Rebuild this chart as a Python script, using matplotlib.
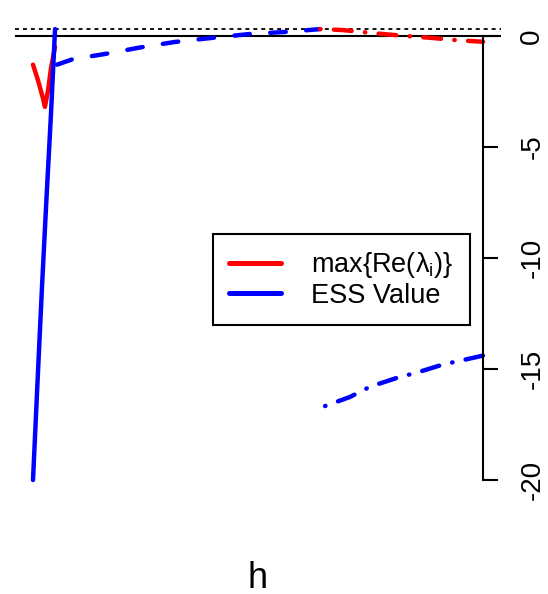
import matplotlib
matplotlib.use("Agg")
import matplotlib.pyplot as plt

# ---- data (h in arbitrary units, 0..2) ----
ess_solid_h = [0.0, 0.02, 0.04, 0.06, 0.08, 0.098]
ess_solid_v = [-20.0, -15.6, -11.3, -7.3, -3.5, 0.3]

eig_solid_h = [0.0, 0.022, 0.044, 0.053, 0.067, 0.08, 0.098]
eig_solid_v = [-1.3, -2.0, -2.8, -3.2, -2.45, -1.45, -0.5]

ess_dash_h = [0.107, 0.178, 0.32, 0.48, 0.63, 0.80, 0.964, 1.133, 1.276]
ess_dash_v = [-1.3, -1.05, -0.82, -0.52, -0.28, -0.09, 0.08, 0.18, 0.3]

eig_dashdot_h = [1.276, 1.373, 1.533, 1.644, 1.764, 1.884, 2.0]
eig_dashdot_v = [0.3, 0.26, 0.1, 0.0, -0.09, -0.2, -0.27]

ess_dashdot_h = [1.298, 1.409, 1.498, 1.618, 1.711, 1.822, 1.929, 2.0]
ess_dashdot_v = [-16.67, -16.26, -15.8, -15.4, -15.15, -14.8, -14.56, -14.4]

ref_dotted = 0.3
yticks = [0, -5, -10, -15, -20]
labels = [r"max{Re($\mathrm{\lambda_i}$)}", "ESS Value"]

RED, BLUE = "#FF0000", "#0000FF"
LW = 3.2
DOTDASH = (0, (0.1, 3.0, 4.0, 3.0))

plt.rcParams["font.family"] = ["Liberation Sans", "DejaVu Sans"]
plt.rcParams["mathtext.fontset"] = "custom"
plt.rcParams["mathtext.rm"] = "Liberation Sans"
plt.rcParams["mathtext.it"] = "Liberation Sans:italic"
plt.rcParams["axes.unicode_minus"] = False

fig = plt.figure(figsize=(5.48, 5.94), dpi=100)
ax = fig.add_axes([15 / 548, 94 / 594, 486 / 548, 480 / 594])
ax.set_xlim(-0.08, 2.08)
ax.set_ylim(-20.9, 0.71)

ax.axhline(0, color="black", lw=1.5)
ax.axhline(ref_dotted, color="black", lw=1.3, ls=(0, (2.2, 2.2)))

kw = dict(lw=LW, solid_capstyle="round", dash_capstyle="round")
ax.plot(eig_solid_h, eig_solid_v, color=RED, **kw)
ax.plot(ess_solid_h, ess_solid_v, color=BLUE, **kw)
ax.plot(ess_dash_h, ess_dash_v, color=BLUE, ls=(0, (3.5, 4.6)), **kw)
ax.plot(eig_dashdot_h, eig_dashdot_v, color=RED, ls=DOTDASH, **kw)
ax.plot(ess_dashdot_h, ess_dashdot_v, color=BLUE, ls=DOTDASH, **kw)

# legend handles (solid lines as in the original)
h1, = ax.plot([], [], color=RED, lw=3.6, solid_capstyle="round")
h2, = ax.plot([], [], color=BLUE, lw=3.6, solid_capstyle="round")
leg = ax.legend([h1, h2], labels, loc="upper left",
                bbox_to_anchor=(213 / 548, 1 - 234 / 594),
                bbox_transform=fig.transFigure, borderaxespad=0,
                fontsize=19.5, frameon=True, fancybox=False, framealpha=1,
                edgecolor="black", handlelength=1.9, handletextpad=1.12,
                borderpad=0.6, labelspacing=0.1)
leg.get_frame().set_linewidth(1.5)

# right axis only, at h = 2
for s in ["top", "left", "bottom"]:
    ax.spines[s].set_visible(False)
ax.spines["right"].set_position(("data", 2.0))
ax.spines["right"].set_bounds(-20, 0)
ax.spines["right"].set_linewidth(1.5)
ax.yaxis.tick_right()
ax.set_yticks(yticks)
ax.tick_params(axis="y", length=11, width=1.5, labelsize=20, pad=24.5,
               labelrotation=90)
for t in ax.get_yticklabels():
    t.set_va("center")
    t.set_ha("center")
ax.set_xticks([])

ax.set_xlabel("h", fontsize=26)
ax.xaxis.set_label_coords(0.5, -0.1625)
ax.xaxis.label.set_va("center")

fig.savefig("out.png", dpi=100)
